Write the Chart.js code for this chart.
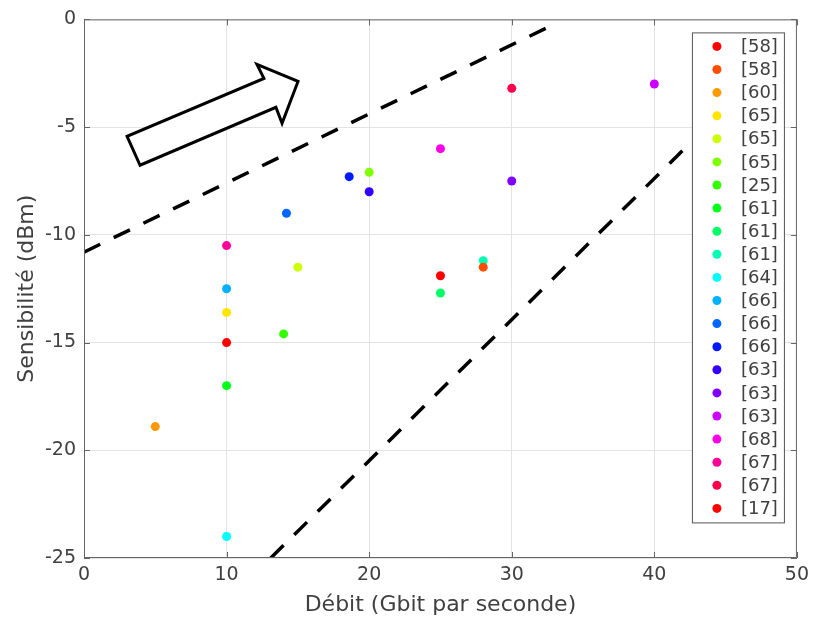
<!DOCTYPE html>
<html>
<head>
<meta charset="utf-8">
<script src="https://cdn.jsdelivr.net/npm/chart.js@4"></script>
<style>
  html, body { margin: 0; padding: 0; background: #fff; }
</style>
</head>
<body>
<canvas id="chart" width="815" height="619"></canvas>
<script>
// references bibliographiques (legende)
const references = ["[58]", "[58]", "[60]", "[65]", "[65]", "[65]", "[25]", "[61]", "[61]", "[61]",
    "[64]", "[66]", "[66]", "[66]", "[63]", "[63]", "[63]", "[68]", "[67]", "[67]", "[17]"];
// debit en Gbit/s
const debit = [25, 28, 5, 10, 15, 20, 14, 10, 25, 28, 10, 10, 14.2, 18.6, 20, 30, 40, 25, 10, 30, 10];
// sensibilite en dBm
const sensibilite = [-11.9, -11.5, -18.9, -13.6, -11.5, -7.1, -14.6, -17.0, -12.7, -11.2,
    -24.0, -12.5, -9.0, -7.3, -8.0, -7.5, -3.0, -6.0, -10.5, -3.2, -15.0];

// droites pointillees
const limiteHauteX = [0, 32.9];
const limiteHauteY = [-10.8, -0.25];
const limiteBasseX = [13.1, 47];
const limiteBasseY = [-25, -2.8];

// fleche (contour, en coordonnees des axes)
const flecheX = [3.93, 3.02, 12.62, 12.13, 15.01, 13.89, 13.46];
const flecheY = [-6.77, -5.43, -2.74, -2.09, -2.88, -4.82, -4.08];

const xTicks = [0, 10, 20, 30, 40, 50];
const yTicks = [-25, -20, -15, -10, -5, 0];

const couleur = i => `hsl(${i * 18}, 100%, 50%)`;
const police = "'DejaVu Sans', sans-serif";
const gris = "#404040";

const points = references.map((ref, i) => ({
    label: ref,
    data: [{ x: debit[i], y: sensibilite[i] }],
    backgroundColor: couleur(i),
    borderWidth: 0,
    pointRadius: 4.5,
    pointHoverRadius: 4.5
}));

function droite(xs, ys) {
    return {
        label: "",
        type: "line",
        data: xs.map((x, i) => ({ x: x, y: ys[i] })),
        borderColor: "#000",
        borderWidth: 3.5,
        borderDash: [18, 15],
        pointRadius: 0,
        fill: false,
        order: 10
    };
}

const cadre = {
    id: "cadre",
    afterDatasetsDraw(chart) {
        const ctx = chart.ctx;
        const a = chart.chartArea;
        const sx = chart.scales.x, sy = chart.scales.y;

        // fleche
        ctx.save();
        ctx.beginPath();
        flecheX.forEach((x, i) => {
            const px = sx.getPixelForValue(x), py = sy.getPixelForValue(flecheY[i]);
            if (i === 0) ctx.moveTo(px, py); else ctx.lineTo(px, py);
        });
        ctx.closePath();
        ctx.fillStyle = "#fff";
        ctx.fill();
        ctx.lineWidth = 3;
        ctx.lineJoin = "miter";
        ctx.strokeStyle = "#000";
        ctx.stroke();
        ctx.restore();

        // cadre et graduations interieures
        ctx.save();
        ctx.strokeStyle = "#666";
        ctx.lineWidth = 1;
        ctx.strokeRect(a.left + 0.5, a.top + 0.5, a.right - a.left - 1, a.bottom - a.top - 1);
        ctx.beginPath();
        xTicks.forEach(v => {
            const p = Math.round(sx.getPixelForValue(v)) + 0.5;
            ctx.moveTo(p, a.bottom); ctx.lineTo(p, a.bottom - 6);
            ctx.moveTo(p, a.top); ctx.lineTo(p, a.top + 6);
        });
        yTicks.forEach(v => {
            const p = Math.round(sy.getPixelForValue(v)) + 0.5;
            ctx.moveTo(a.left, p); ctx.lineTo(a.left + 6, p);
            ctx.moveTo(a.right, p); ctx.lineTo(a.right - 6, p);
        });
        ctx.stroke();
        ctx.restore();
    }
};

const legende = {
    id: "legende",
    afterDraw(chart) {
        const ctx = chart.ctx;
        const a = chart.chartArea;
        const gauche = a.right - 105, haut = a.top + 13, largeur = 92, pas = 23.1;
        const hauteur = pas * (references.length - 1) + 28;
        ctx.save();
        ctx.fillStyle = "#fff";
        ctx.fillRect(gauche, haut, largeur, hauteur);
        ctx.strokeStyle = "#555";
        ctx.lineWidth = 1;
        ctx.strokeRect(gauche + 0.5, haut + 0.5, largeur, hauteur);
        ctx.font = "18px " + police;
        ctx.textBaseline = "middle";
        ctx.textAlign = "left";
        references.forEach((ref, i) => {
            const y = haut + 14 + i * pas;
            ctx.beginPath();
            ctx.arc(gauche + 25, y, 4.5, 0, Math.PI * 2);
            ctx.fillStyle = couleur(i);
            ctx.fill();
            ctx.fillStyle = gris;
            ctx.fillText(ref, gauche + 49, y + 1);
        });
        ctx.restore();
    }
};

new Chart(document.getElementById("chart"), {
    type: "scatter",
    data: {
        datasets: [
            droite(limiteHauteX, limiteHauteY),
            droite(limiteBasseX, limiteBasseY),
            ...points
        ]
    },
    options: {
        responsive: false,
        animation: false,
        devicePixelRatio: 1,
        layout: { padding: { top: 19, right: 17, left: 0, bottom: 0 } },
        plugins: {
            legend: { display: false },
            tooltip: { enabled: false }
        },
        scales: {
            x: {
                type: "linear",
                min: 0,
                max: 50,
                afterFit: s => { s.height = 61; },
                afterBuildTicks: s => { s.ticks = xTicks.map(v => ({ value: v })); },
                grid: { color: "#e3e3e3", drawTicks: false },
                border: { display: false },
                ticks: { color: gris, font: { family: police, size: 19 }, padding: 6, maxRotation: 0 },
                title: {
                    display: true,
                    text: "Débit (Gbit par seconde)",
                    color: gris,
                    font: { family: police, size: 22 },
                    padding: { top: 0, bottom: 1 }
                }
            },
            y: {
                type: "linear",
                min: -25,
                max: 0,
                afterFit: s => { s.width = 84; },
                afterBuildTicks: s => { s.ticks = yTicks.map(v => ({ value: v })); },
                grid: { color: "#e3e3e3", drawTicks: false },
                border: { display: false },
                ticks: { color: gris, font: { family: police, size: 19 }, padding: 8 },
                title: {
                    display: true,
                    text: "Sensibilité (dBm)",
                    color: gris,
                    font: { family: police, size: 22 },
                    padding: { top: 14, bottom: 0 }
                }
            }
        }
    },
    plugins: [cadre, legende]
});
</script>
</body>
</html>
